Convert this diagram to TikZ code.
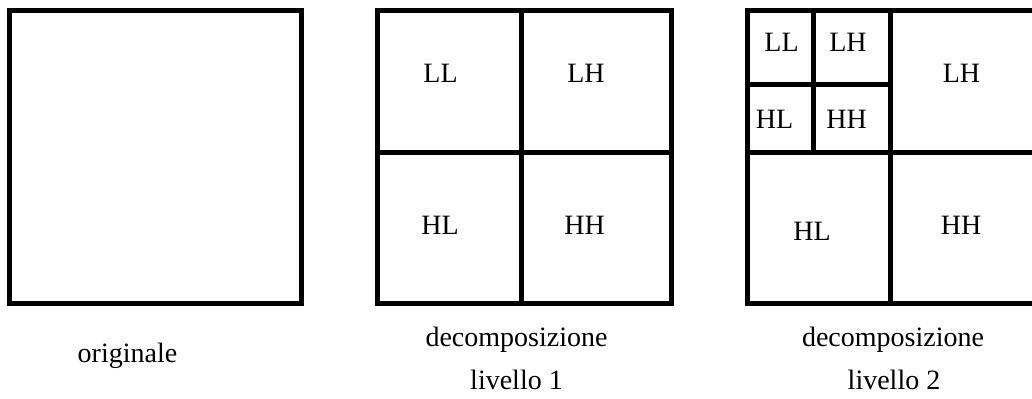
\documentclass[tikz,border=0pt]{standalone}
\usepackage{fontspec}
\setmainfont{Liberation Serif}
\usepackage{tikz}
\usepackage{xcolor}

\tikzset{
  band/.style={line width=2.5pt},
  lbl/.style={inner sep=0pt,font=\fontsize{14}{16}\selectfont}
}

\begin{document}
\begin{tikzpicture}[x=0.5pt,y=-0.5pt]
\useasboundingbox (0,0) rectangle (1032,399);

% Draw the original image
\draw[band] (9,11) rectangle (301,303.5);

% Draw level 1
\draw[band] (377.5,11) rectangle (671.5,303.5);
\draw[band] (521.5,11) -- (521.5,303.5);
\draw[band] (377.5,153) -- (671.5,153);

% Draw level 2
\draw[band] (747.5,11) rectangle (1041.5,303.5);
\draw[band] (890,11) -- (890,303.5);
\draw[band] (747.5,153) -- (1041.5,153);
\draw[band] (813.5,11) -- (813.5,153);
\draw[band] (747.5,84.5) -- (890,84.5);

% Subband labels, level 1
\node[lbl] (ll1) at (440.5,73) {LL};
\node[lbl] (lh1) at (586,73) {LH};
\node[lbl] (hl1) at (440,225) {HL};
\node[lbl] (hh1) at (584.5,225) {HH};

% Subband labels, level 2
\node[lbl] (ll2) at (781.5,42.5) {LL};
\node[lbl] (lh2) at (848,42.5) {LH};
\node[lbl] (hl2) at (774.5,119) {HL};
\node[lbl] (hh2) at (846.7,119) {HH};
\node[lbl] (lh2b) at (961.5,73) {LH};
\node[lbl] (hl2b) at (812,231) {HL};
\node[lbl] (hh2b) at (961,225) {HH};

% Captions
\node[lbl,anchor=base] (cap0) at (127.5,363) {originale};
\node[lbl,anchor=base] (cap1) at (516.5,347) {decomposizione};
\node[lbl,anchor=base] (cap1b) at (516.5,390) {livello 1};
\node[lbl,anchor=base] (cap2) at (893,347) {decomposizione};
\node[lbl,anchor=base] (cap2b) at (894,390) {livello 2};
\end{tikzpicture}
\end{document}
